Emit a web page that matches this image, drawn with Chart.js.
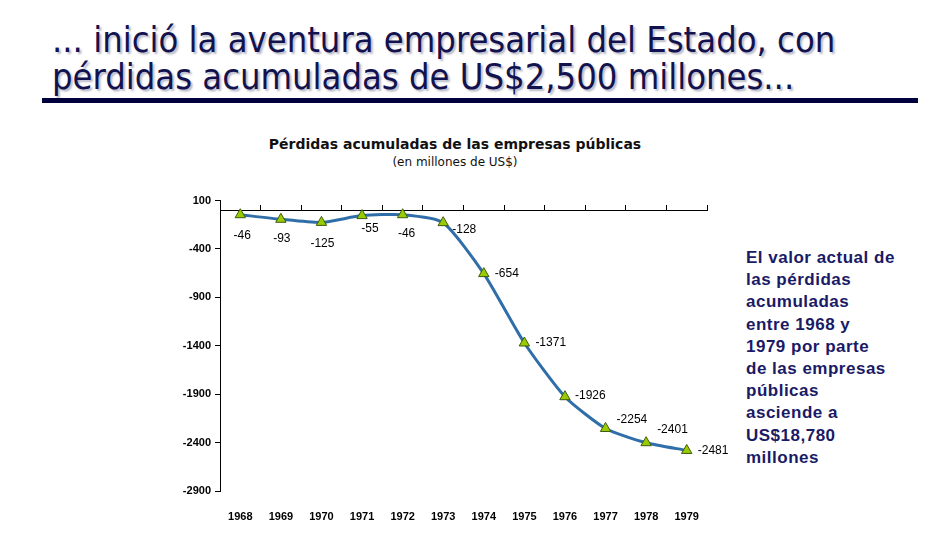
<!DOCTYPE html>
<html>
<head>
<meta charset="utf-8">
<script src="https://cdn.jsdelivr.net/npm/chart.js@4.4.1/dist/chart.umd.min.js"></script>
<style>
    body { margin: 0; width: 944px; height: 545px; background: #fff; position: relative; overflow: hidden; font-family: 'Liberation Sans', Arial, sans-serif; }
    .headline { position: absolute; left: 52px; top: 21px; margin: 0; font-family: 'DejaVu Sans Condensed', 'DejaVu Sans', sans-serif; font-stretch: condensed; font-weight: normal; font-size: 36px; line-height: 37px; color: #12124e; text-shadow: 2px 2px 2px #b8b8c8; }
    .rule { position: absolute; left: 42px; top: 98px; width: 876px; height: 5px; background: #00003c; }
    .chart-title { position: absolute; left: 0; width: 910px; top: 136px; text-align: center; font-family: 'DejaVu Sans', sans-serif; font-weight: bold; font-size: 14px; color: #111; }
    .chart-sub { position: absolute; left: 0; width: 910px; top: 155px; text-align: center; font-family: 'DejaVu Sans', sans-serif; font-size: 12px; color: #111; }
    .note { position: absolute; left: 746px; top: 247px; font-weight: bold; font-size: 17px; line-height: 22.2px; letter-spacing: 0.5px; color: #1a1a66; }
    #wrap { position: absolute; left: 0; top: 190px; width: 944px; height: 340px; }
</style>
</head>
<body>
<h1 class="headline">... inició la aventura empresarial del Estado, con<br>pérdidas acumuladas de US$2,500 millones...</h1>
<div class="rule"></div>
<div class="chart-title">Pérdidas acumuladas de las empresas públicas</div>
<div class="chart-sub">(en millones de US$)</div>
<div class="note">El valor actual de<br>las pérdidas<br>acumuladas<br>entre 1968 y<br>1979 por parte<br>de las empresas<br>públicas<br>asciende a<br>US$18,780<br>millones</div>
<div id="wrap"><canvas id="lossChart"></canvas></div>

<script>
// Datos: pérdidas acumuladas (millones de US$)
const years = ['1968', '1969', '1970', '1971', '1972', '1973', '1974', '1975', '1976', '1977', '1978', '1979'];
const losses = [-46, -93, -125, -55, -46, -128, -654, -1371, -1926, -2254, -2401, -2481];
const yTicks = [100, -400, -900, -1400, -1900, -2400, -2900];

// where each value label sits relative to its point: [dx, dy, align]
const labelPlacement = [
    [2, 21, 'center'], [1, 19, 'center'], [1, 21, 'center'], [8, 13, 'center'],
    [4, 19, 'center'], [9, 7, 'left'], [11, 0, 'left'], [11, 0, 'left'],
    [10, -1, 'left'], [11, -9, 'left'], [11, -13, 'left'], [11, 0, 'left']
];

const tickFont = { family: "'Liberation Sans', Arial, sans-serif", size: 11, weight: 'bold' };

// value labels next to the triangles
const valueLabels = {
    id: 'valueLabels',
    afterDatasetsDraw(chart) {
        const ctx = chart.ctx;
        const meta = chart.getDatasetMeta(0);
        ctx.save();
        ctx.font = "12px 'Liberation Sans', Arial, sans-serif";
        ctx.fillStyle = '#000';
        ctx.textBaseline = 'middle';
        meta.data.forEach((pt, i) => {
            const p = labelPlacement[i];
            ctx.textAlign = p[2];
            ctx.fillText(String(losses[i]), pt.x + p[0], pt.y + p[1]);
        });
        ctx.restore();
    }
};

document.addEventListener('DOMContentLoaded', function() {
    const ctx = document.getElementById('lossChart').getContext('2d');
    new Chart(ctx, {
        type: 'line',
        data: {
            labels: years,
            datasets: [{
                data: losses,
                borderColor: '#2f6ea8',
                borderWidth: 3,
                tension: 0.2,
                fill: false,
                pointStyle: 'triangle',
                pointRadius: 6,
                pointBackgroundColor: '#99cc00',
                pointBorderColor: '#3f5a10',
                pointBorderWidth: 1
            }]
        },
        options: {
            responsive: true,
            maintainAspectRatio: false,
            animation: false,
            layout: { padding: { left: 170, right: 237, top: 9, bottom: 9 } },
            plugins: {
                legend: { display: false },
                tooltip: { enabled: false }
            },
            scales: {
                y: {
                    min: -2900,
                    max: 100,
                    afterBuildTicks: function(scale) {
                        scale.ticks = yTicks.map(v => ({ value: v }));
                    },
                    afterFit: function(scale) { scale.width = 50; },
                    ticks: {
                        font: tickFont, color: '#000', padding: 4,
                        callback: function(value) { return String(value); }
                    },
                    grid: { drawOnChartArea: false, tickLength: 5, color: '#000' },
                    border: { color: '#000', width: 1 }
                },
                x: {
                    position: { y: 0 },
                    offset: true,
                    ticks: { display: false },
                    grid: { offset: true, drawOnChartArea: false, tickLength: -6, color: '#000' },
                    border: { color: '#000', width: 1 }
                },
                x2: {
                    type: 'category',
                    position: 'bottom',
                    labels: years,
                    offset: true,
                    afterFit: function(scale) { scale.height = 30; },
                    ticks: { font: tickFont, color: '#000', padding: 11, maxRotation: 0 },
                    grid: { display: false },
                    border: { display: false }
                }
            }
        },
        plugins: [valueLabels]
    });
});
</script>
</body>
</html>
